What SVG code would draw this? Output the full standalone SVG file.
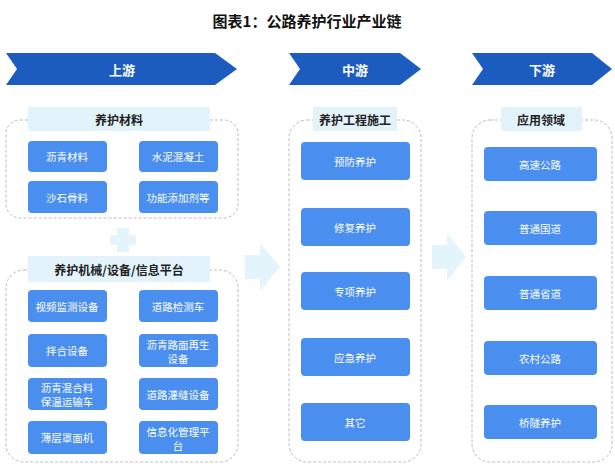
<svg xmlns="http://www.w3.org/2000/svg" width="615" height="472" viewBox="0 0 615 472">
<style>
text{font-family:"Noto Sans CJK SC","Liberation Sans",sans-serif;text-anchor:middle;dominant-baseline:central}
.t{font-size:15px;font-weight:bold;fill:#111}
.ch{fill:#1d5cbf}
.cht{fill:#fff;font-size:13px;font-weight:bold}
.lb{fill:#e2f3fb}
.lbt{fill:#222;font-size:12px;font-weight:bold}
.dash{fill:none;stroke:#bbb;stroke-dasharray:3 2;stroke-width:1}
.b{fill:#4a8ff0}
.bt{fill:#fff;font-size:10.5px}
.ar{fill:#e4f4fb}
</style>
<text class="t" x="307" y="20">图表1：公路养护行业产业链</text>
<g id="conn">
<path class="ar" d="M117 228h12v7h7v10h-7v7h-12v-7h-7v-10h7z"/>
<path class="ar" d="M245 255h15v-12l20 24l-20 24v-12h-15z"/>
<path class="ar" d="M432 245h15v-12l19 24l-19 24v-12h-15z"/>
</g>
<g id="up">
<path class="ch" d="M6 53H215L237 69L215 85H6L17 69Z"/><text class="cht" x="122" y="69">上游</text>
<rect class="dash" x="6" y="120" width="232" height="98" rx="14"/>
<rect class="lb" x="28" y="107" width="182" height="24"/><text class="lbt" x="119" y="119">养护材料</text>
<rect class="dash" x="6" y="270" width="232" height="192" rx="18"/>
<rect class="lb" x="28" y="256" width="182" height="26"/><text class="lbt" x="119" y="269">养护机械/设备/信息平台</text>
</g>
<g id="up-nodes">
<g id="n1"><rect class="b" x="28" y="141" width="79" height="31" rx="4"/><text class="bt" x="67" y="156">沥青材料</text></g>
<g id="n2"><rect class="b" x="139" y="141" width="79" height="31" rx="4"/><text class="bt" x="178" y="156">水泥混凝土</text></g>
<g id="n3"><rect class="b" x="28" y="181" width="79" height="32" rx="4"/><text class="bt" x="67" y="197">沙石骨料</text></g>
<g id="n4"><rect class="b" x="139" y="181" width="79" height="32" rx="4"/><text class="bt" x="178" y="197">功能添加剂等</text></g>
<g id="n5"><rect class="b" x="28" y="290" width="79" height="32" rx="4"/><text class="bt" x="67" y="306">视频监测设备</text></g>
<g id="n6"><rect class="b" x="139" y="290" width="79" height="32" rx="4"/><text class="bt" x="178" y="306">道路检测车</text></g>
<g id="n7"><rect class="b" x="28" y="334" width="79" height="33" rx="4"/><text class="bt" x="67" y="350">拌合设备</text></g>
<g id="n8"><rect class="b" x="139" y="334" width="79" height="33" rx="4"/><text class="bt" x="178" y="344">沥青路面再生</text><text class="bt" x="178" y="358">设备</text></g>
<g id="n9"><rect class="b" x="28" y="378" width="79" height="32" rx="4"/><text class="bt" x="67" y="387">沥青混合料</text><text class="bt" x="67" y="401">保温运输车</text></g>
<g id="n10"><rect class="b" x="139" y="378" width="79" height="32" rx="4"/><text class="bt" x="178" y="394">道路灌缝设备</text></g>
<g id="n11"><rect class="b" x="28" y="421" width="79" height="33" rx="4"/><text class="bt" x="67" y="437">薄层罩面机</text></g>
<g id="n12"><rect class="b" x="139" y="421" width="79" height="33" rx="4"/><text class="bt" x="178" y="431">信息化管理平</text><text class="bt" x="178" y="445">台</text></g>
</g>
<g id="mid">
<path class="ch" d="M289 53H400L421 69L400 85H289L300 69Z"/><text class="cht" x="355" y="69">中游</text>
<rect class="dash" x="289" y="120" width="132" height="342" rx="18"/>
<rect class="lb" x="313" y="107" width="84" height="24"/><text class="lbt" x="355" y="119">养护工程施工</text>
<g id="m1"><rect class="b" x="301" y="142" width="109" height="38" rx="4"/><text class="bt" x="355" y="161">预防养护</text></g>
<g id="m2"><rect class="b" x="301" y="208" width="109" height="38" rx="4"/><text class="bt" x="355" y="227">修复养护</text></g>
<g id="m3"><rect class="b" x="301" y="272" width="109" height="38" rx="4"/><text class="bt" x="355" y="291">专项养护</text></g>
<g id="m4"><rect class="b" x="301" y="338" width="109" height="38" rx="4"/><text class="bt" x="355" y="357">应急养护</text></g>
<g id="m5"><rect class="b" x="301" y="403" width="109" height="38" rx="4"/><text class="bt" x="355" y="422">其它</text></g>
</g>
<g id="down">
<path class="ch" d="M472 53H592L612 69L592 85H472L483 69Z"/><text class="cht" x="542" y="69">下游</text>
<rect class="dash" x="472" y="120" width="140" height="342" rx="18"/>
<rect class="lb" x="501" y="107" width="81" height="24"/><text class="lbt" x="541" y="119">应用领域</text>
<g id="d1"><rect class="b" x="484" y="147" width="113" height="34" rx="4"/><text class="bt" x="540" y="164">高速公路</text></g>
<g id="d2"><rect class="b" x="484" y="211" width="113" height="34" rx="4"/><text class="bt" x="540" y="228">普通国道</text></g>
<g id="d3"><rect class="b" x="484" y="276" width="113" height="34" rx="4"/><text class="bt" x="540" y="293">普通省道</text></g>
<g id="d4"><rect class="b" x="484" y="341" width="113" height="34" rx="4"/><text class="bt" x="540" y="358">农村公路</text></g>
<g id="d5"><rect class="b" x="484" y="405" width="113" height="34" rx="4"/><text class="bt" x="540" y="422">桥隧养护</text></g>
</g>
</svg>
